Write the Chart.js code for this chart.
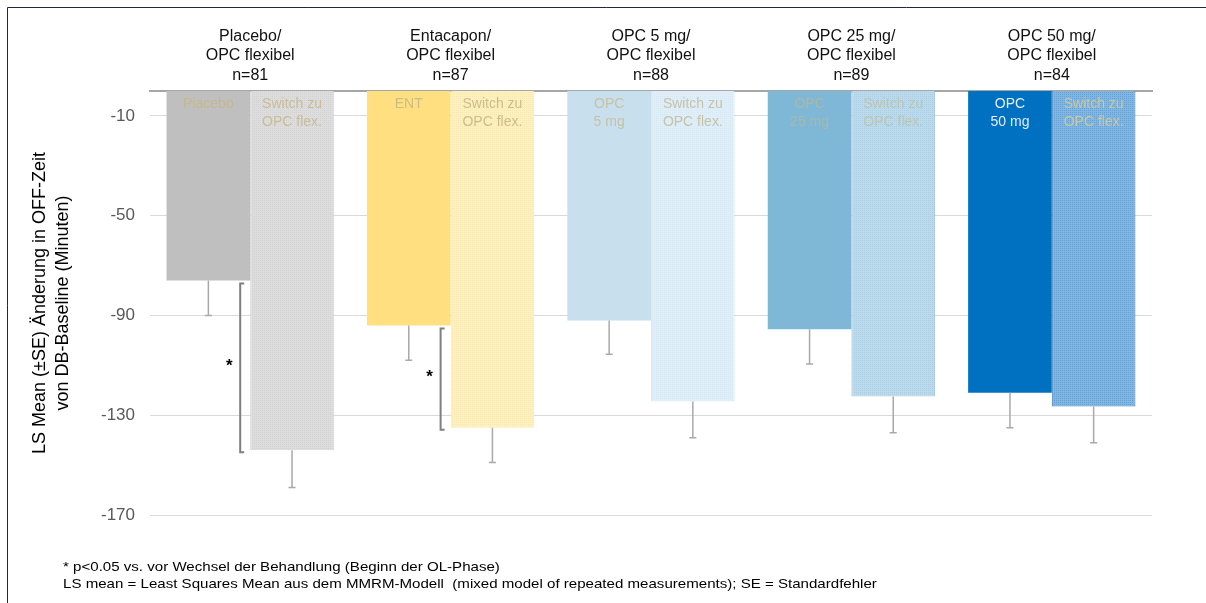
<!DOCTYPE html>
<html>
<head>
<meta charset="utf-8">
<script src="https://cdn.jsdelivr.net/npm/chart.js@4/dist/chart.umd.min.js"></script>
<style>
html,body{margin:0;padding:0;background:#fff;}
#wrap{position:relative;width:1206px;height:603px;}
</style>
</head>
<body>
<div id="wrap"><canvas id="c" width="1206" height="603"></canvas></div>
<script>
// ---- data ----
const groupNames = ['Placebo/', 'Entacapon/', 'OPC 5 mg/', 'OPC 25 mg/', 'OPC 50 mg/'];
const groupSub = ['OPC flexibel', 'OPC flexibel', 'OPC flexibel', 'OPC flexibel', 'OPC flexibel'];
const nValues = [81, 87, 88, 89, 84];
const preLabels = ['Placebo', 'ENT', 'OPC\n5 mg', 'OPC\n25 mg', 'OPC\n50 mg'];
const switchLabel = 'Switch zu\nOPC flex.';
const preValues = [-76, -94, -92, -95.5, -121];
const preSE = [14, 14, 13.5, 14, 14];
const switchValues = [-144, -135, -124.5, -122.5, -126.5];
const switchSE = [15, 14, 14.5, 14.5, 14.5];
const sigGroups = [0, 1];
const sigMark = '*';
const yTicks = [-10, -50, -90, -130, -170];
const yTitle = ['LS Mean (\u00b1SE) \u00c4nderung in OFF-Zeit', 'von DB-Baseline (Minuten)'];
const footnotes = [
  '* p<0.05 vs. vor Wechsel der Behandlung (Beginn der OL-Phase)',
  'LS mean = Least Squares Mean aus dem MMRM-Modell  (mixed model of repeated measurements); SE = Standardfehler'
];

// ---- styles ----
const preColors = ['#bfbfbf', '#ffdf80', '#c8e0ee', '#7fb8d7', '#0070c0'];
const switchBase = ['#dddddd', '#fdf0c2', '#e1eef7', '#bddaea', '#82b5df'];
const switchDot = ['#d2d2d2', '#f9e8ae', '#d5e8f3', '#aacee3', '#65a3d7'];
const switchBorder = ['#d3d3d3', '#fbeab4', '#d8e9f4', '#a2c6de', '#3d80bf'];
const preText = ['#c6b88e', '#cdbb88', '#c7c2a2', '#a9b9a6', '#e4ecf4'];
const switchText = ['#c9bd98', '#cdbd8e', '#c6c4a8', '#bbc6b4', '#c8c8a4'];

function makePattern(base, dot) {
  const p = document.createElement('canvas');
  p.width = 4; p.height = 4;
  const g = p.getContext('2d');
  g.fillStyle = base; g.fillRect(0, 0, 4, 4);
  g.fillStyle = dot;
  g.fillRect(0, 0, 1, 1); g.fillRect(2, 2, 1, 1);
  g.fillRect(2, 0, 1, 1); g.fillRect(0, 2, 1, 1);
  return g.createPattern(p, 'repeat');
}
const ctx0 = document.getElementById('c').getContext('2d');
const switchFills = switchBase.map((b, i) => makePattern(b, switchDot[i]));

const labels = groupNames.map((g, i) => [g, groupSub[i], 'n=' + nValues[i]]);
const FONT = '"Liberation Sans", Arial, sans-serif';

const overlay = {
  id: 'overlay',
  beforeDraw(chart) {
    const c = chart.ctx;
    c.save();
    c.fillStyle = '#fff';
    c.fillRect(0, 0, chart.width, chart.height);
    c.strokeStyle = '#1f2740';
    c.lineWidth = 1;
    c.beginPath();
    c.moveTo(7.5, chart.height); c.lineTo(7.5, 7.5); c.lineTo(chart.width, 7.5);
    c.stroke();
    c.restore();
  },
  afterDatasetsDraw(chart) {
    const c = chart.ctx;
    const y = chart.scales.y;
    const top = chart.chartArea.top;
    const m0 = chart.getDatasetMeta(0).data;
    const m1 = chart.getDatasetMeta(1).data;
    c.save();
    // error bars
    c.strokeStyle = '#a9a9a9';
    c.lineWidth = 1.5;
    const drawErr = (bar, v, se) => {
      const y0 = y.getPixelForValue(v), y1 = y.getPixelForValue(v - se);
      c.beginPath();
      c.moveTo(bar.x, y0); c.lineTo(bar.x, y1);
      c.moveTo(bar.x - 3.5, y1); c.lineTo(bar.x + 3.5, y1);
      c.stroke();
    };
    preValues.forEach((v, i) => drawErr(m0[i], v, preSE[i]));
    switchValues.forEach((v, i) => drawErr(m1[i], v, switchSE[i]));
    // bar labels
    c.font = '14px ' + FONT;
    c.textAlign = 'center';
    c.textBaseline = 'middle';
    const drawLab = (bar, txt, col) => {
      c.fillStyle = col;
      txt.split('\n').forEach((t, k) => c.fillText(t, bar.x, top + 13 + k * 18));
    };
    preLabels.forEach((t, i) => drawLab(m0[i], t, preText[i]));
    m1.forEach((bar, i) => drawLab(bar, switchLabel, switchText[i]));
    // significance brackets
    sigGroups.forEach(i => {
      const b = m1[i];
      const x = b.x - b.width / 2 - 10;
      const ya = y.getPixelForValue(preValues[i]) + 3;
      const yb = y.getPixelForValue(switchValues[i]) + 2;
      c.strokeStyle = '#7f7f7f';
      c.lineWidth = 2;
      c.beginPath();
      c.moveTo(x + 4, ya); c.lineTo(x, ya); c.lineTo(x, yb); c.lineTo(x + 4, yb);
      c.stroke();
      c.fillStyle = '#000';
      c.font = 'bold 17px ' + FONT;
      c.fillText(sigMark, x - 11, (ya + yb) / 2 - 2);
    });
    // footnotes
    c.fillStyle = '#000';
    c.textAlign = 'left';
    c.font = '13px ' + FONT;
    footnotes.forEach((t, k) => {
      c.save();
      c.translate(63, 567 + k * 17);
      c.scale(1.16, 1);
      c.fillText(t, 0, 0);
      c.restore();
    });
    c.restore();
  }
};

new Chart(ctx0, {
  type: 'bar',
  data: {
    labels: labels,
    datasets: [
      { data: preValues, backgroundColor: preColors, borderWidth: 0 },
      { data: switchValues, backgroundColor: switchFills, borderColor: switchBorder, borderWidth: 1, borderSkipped: 'start' }
    ]
  },
  options: {
    responsive: false,
    animation: false,
    events: [],
    layout: { padding: { left: 0, top: 0, right: 54, bottom: 88 } },
    datasets: { bar: { categoryPercentage: 0.835, barPercentage: 1.0 } },
    plugins: { legend: { display: false }, tooltip: { enabled: false } },
    scales: {
      x: {
        position: 'top',
        grid: { display: false, drawTicks: false },
        border: { display: true, color: '#a6a6a6', width: 2 },
        ticks: { font: { size: 16, family: FONT, lineHeight: 1.22 }, color: '#111', padding: 6, maxRotation: 0, autoSkip: false },
        afterFit(s) { s.height = 91; }
      },
      y: {
        min: -170, max: 0,
        afterBuildTicks(s) { s.ticks = yTicks.map(v => ({ value: v })); },
        grid: { color: '#d9d9d9', lineWidth: 1, drawTicks: false },
        border: { display: false },
        ticks: { font: { size: 17, family: FONT }, color: '#595959', padding: 15 },
        title: { display: true, text: yTitle, font: { size: 18, family: FONT, lineHeight: 1.25 }, color: '#000', padding: { top: 29, bottom: 0 } },
        afterFit(s) { s.width = 150; }
      }
    }
  },
  plugins: [overlay]
});
</script>
</body>
</html>
